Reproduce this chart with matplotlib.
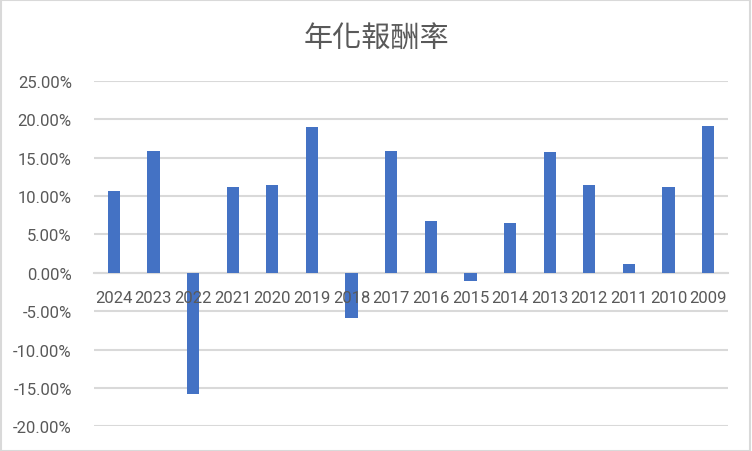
import matplotlib.pyplot as plt
import matplotlib.ticker as mticker
from matplotlib.patches import Rectangle
from matplotlib import font_manager

years = ["2024", "2023", "2022", "2021", "2020", "2019", "2018", "2017",
         "2016", "2015", "2014", "2013", "2012", "2011", "2010", "2009"]
returns = [10.6, 15.8, -15.75, 11.2, 11.4, 19.0, -5.9, 15.8,
           6.7, -1.1, 6.5, 15.7, 11.4, 1.1, 11.2, 19.1]
y_ticks = [-20, -15, -10, -5, 0, 5, 10, 15, 20, 25]

names = {f.name for f in font_manager.fontManager.ttflist}
tick_font = next((n for n in ["Roboto", "Liberation Sans", "DejaVu Sans"] if n in names),
                 "DejaVu Sans")

fig = plt.figure(figsize=(7.52, 4.52), dpi=100)
ax = fig.add_axes([0.125, 0.0546, 0.843, 0.7646])

x = list(range(len(years)))
ax.bar(x, [r / 100 for r in returns], width=0.31, color="#4472C4", zorder=3)

ax.set_xlim(-0.5, len(years) - 0.5)
ax.set_ylim(-0.20, 0.25)
ax.set_yticks([t / 100 for t in y_ticks])
ax.yaxis.set_major_formatter(mticker.FuncFormatter(lambda v, p: f"{v * 100:.2f}%"))
ax.grid(axis="y", color="#d9d9d9", linewidth=1.5, zorder=0)
ax.set_axisbelow(True)
ax.set_xticks([])

for s in ["top", "right", "left"]:
    ax.spines[s].set_visible(False)
ax.spines["bottom"].set_position(("data", 0))
ax.spines["bottom"].set_color("#d9d9d9")
ax.spines["bottom"].set_linewidth(1.5)
ax.tick_params(axis="y", length=0, colors="#595959", labelsize=12, pad=16)
for lab in ax.get_yticklabels():
    lab.set_fontfamily(tick_font)

# category labels sit on top of the bars, as in the original
for xi, yr in zip(x, years):
    ax.annotate(yr, xy=(xi, 0), xytext=(0, -18), textcoords="offset points",
                ha="center", va="center", fontsize=12, color="#595959",
                family=tick_font, zorder=5, annotation_clip=False)

fig.text(0.5, 0.915, "年化報酬率", ha="center", va="center", fontsize=21,
         color="#595959", family=["Noto Sans CJK TC", "DejaVu Sans"])

fig.patches.append(Rectangle((0.001, 0.001), 0.997, 0.997, transform=fig.transFigure,
                             fill=False, edgecolor="#d9d9d9", linewidth=1.5))

fig.savefig("out.png", dpi=100)
